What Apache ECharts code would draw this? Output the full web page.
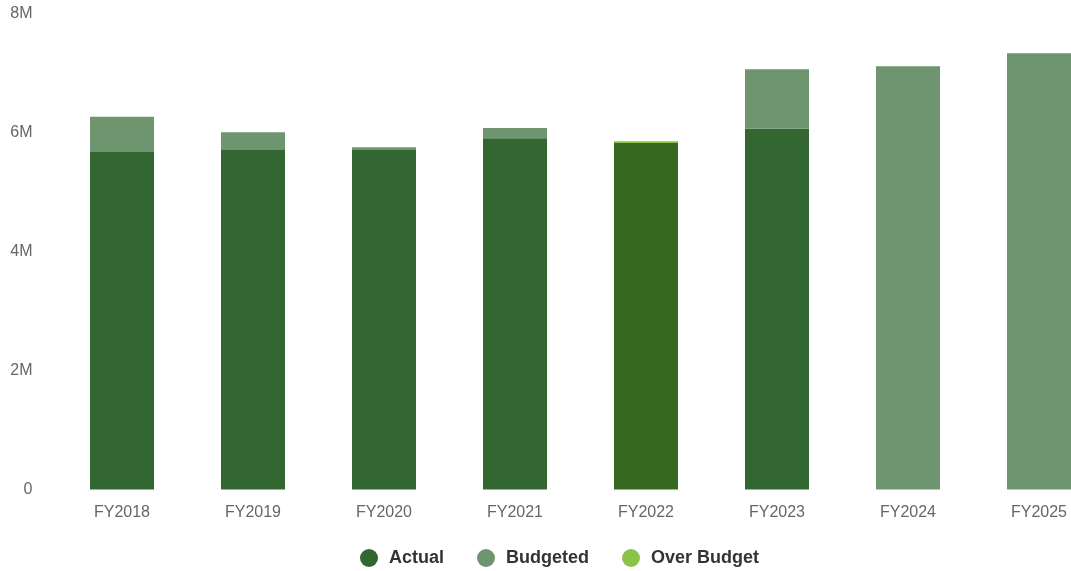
<!DOCTYPE html>
<html>
<head>
<meta charset="utf-8">
<script src="https://cdn.jsdelivr.net/npm/echarts@6/dist/echarts.min.js"></script>
<style>
  html, body { margin: 0; padding: 0; background: #fff; overflow: hidden; width: 1071px; height: 571px; }
  #chart { width: 1105px; height: 571px; }
</style>
</head>
<body>
<div id="chart"></div>
<script>
// Fiscal years shown on the category axis
const categories = ['FY2018', 'FY2019', 'FY2020', 'FY2021', 'FY2022', 'FY2023', 'FY2024', 'FY2025'];
// Actual spend per year (millions); future years have no actuals yet
const actual = [5.68, 5.71, 5.71, 5.91, 5.86, 6.07, null, null];
// Budget per year (millions)
const budgeted = [6.27, 6.01, 5.76, 6.08, 5.83, 7.07, 7.12, 7.34];
// Value axis ticks (millions)
const yTicks = [0, 2, 4, 6, 8];

const COLOR_ACTUAL = '#336630';
const COLOR_ACTUAL_OVER = '#37681f';
const COLOR_BUDGET = '#6e9470';
const COLOR_OVER = '#8bc34a';

// Stack segments: actual spend up to the budget, unspent budget, and spend above budget
const actualSeg = categories.map((c, i) => {
  if (actual[i] == null) return null;
  const v = Math.min(actual[i], budgeted[i]);
  return actual[i] > budgeted[i] ? { value: v, itemStyle: { color: COLOR_ACTUAL_OVER } } : v;
});
const budgetSeg = categories.map((c, i) => {
  if (actual[i] == null) return budgeted[i];
  return Math.max(budgeted[i] - actual[i], 0);
});
const overSeg = categories.map((c, i) => {
  if (actual[i] == null) return 0;
  return Math.max(actual[i] - budgeted[i], 0);
});

const chart = echarts.init(document.getElementById('chart'), null, { renderer: 'canvas' });
chart.setOption({
  animation: false,
  textStyle: { fontFamily: 'Liberation Sans, Arial, Helvetica, sans-serif' },
  grid: { left: 56.5, right: 0.5, top: 14, bottom: 81.5, containLabel: false },
  legend: {
    left: 355,
    top: 544,
    icon: 'circle',
    itemWidth: 18,
    itemHeight: 18,
    itemGap: 33,
    textStyle: { fontSize: 18, fontWeight: 'bold', color: '#333', padding: [0, 0, 0, 6] },
    data: ['Actual', 'Budgeted', 'Over Budget']
  },
  xAxis: {
    type: 'category',
    data: categories,
    axisLine: { show: false },
    axisTick: { show: false },
    axisLabel: { color: '#666', fontSize: 16, margin: 15 }
  },
  yAxis: {
    type: 'value',
    min: yTicks[0],
    max: yTicks[yTicks.length - 1],
    interval: yTicks[1] - yTicks[0],
    splitLine: { show: false },
    axisLine: { show: false },
    axisTick: { show: false },
    axisLabel: {
      color: '#666',
      fontSize: 16,
      margin: 24,
      lineHeight: 20,
      padding: [3, 0, 0, 0],
      formatter: v => v === 0 ? '0' : v + 'M'
    }
  },
  series: [
    { name: 'Actual', type: 'bar', stack: 'spend', barWidth: 64, data: actualSeg, itemStyle: { color: COLOR_ACTUAL } },
    { name: 'Budgeted', type: 'bar', stack: 'spend', barWidth: 64, data: budgetSeg, itemStyle: { color: COLOR_BUDGET } },
    { name: 'Over Budget', type: 'bar', stack: 'spend', barWidth: 64, data: overSeg, itemStyle: { color: COLOR_OVER } }
  ]
});
</script>
</body>
</html>
